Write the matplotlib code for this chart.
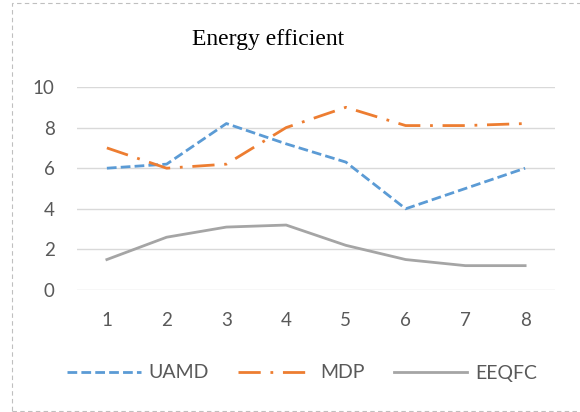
import matplotlib
matplotlib.use('Agg')
import matplotlib.pyplot as plt
from matplotlib.patches import Rectangle

# data
categories = [1, 2, 3, 4, 5, 6, 7, 8]
uamd = [6.0, 6.2, 8.2, 7.2, 6.3, 4.0, 5.0, 6.0]
mdp = [7.0, 6.0, 6.2, 8.0, 9.0, 8.1, 8.1, 8.2]
eeqfc = [1.5, 2.6, 3.1, 3.2, 2.2, 1.5, 1.2, 1.2]
y_ticks = [0, 2, 4, 6, 8, 10]

tick_font = 'Lato'
text_col = '#595959'

fig = plt.figure(figsize=(5.8, 4.12), dpi=100)
ax = fig.add_axes([77 / 580, 1 - 290 / 412, (555 - 77) / 580, (290 - 87) / 412])

ax.plot(categories, uamd, color='#5B9BD5', lw=2.0, linestyle=(0, (3.5, 1.5)), label='UAMD')
ax.plot(categories, mdp, color='#ED7D31', lw=2.0, linestyle=(0, (8, 3.5, 1, 3.5)), label='MDP')
ax.plot(categories, eeqfc, color='#A5A5A5', lw=2.0, label='EEQFC')

ax.set_xlim(0.5, 8.5)
ax.set_ylim(0, 10)
ax.set_yticks(y_ticks)
ax.set_xticks(categories)
ax.yaxis.grid(True, color='#D9D9D9', lw=1.0)
ax.set_axisbelow(True)
for s in ax.spines.values():
    s.set_visible(False)
ax.tick_params(length=0, labelsize=13.5, labelcolor=text_col, pad=16)
for lab in ax.get_xticklabels() + ax.get_yticklabels():
    lab.set_family(tick_font)

fig.text(268 / 580, 1 - 39 / 412, 'Energy efficient', ha='center', va='center',
         family='Liberation Serif', fontsize=17, color='black')

leg = fig.legend(loc='center', bbox_to_anchor=(302 / 580, 1 - 373 / 412), ncol=3, frameon=False,
                 prop={'family': tick_font, 'size': 14}, handlelength=3.8, columnspacing=1.5,
                 handletextpad=0.4)
for t in leg.get_texts():
    t.set_color(text_col)

fig.patches.append(Rectangle((12 / 580, 1 / 412), 600 / 580, 408 / 412, transform=fig.transFigure,
                             fill=False, edgecolor='#BFBFBF', lw=0.8, linestyle=(0, (4, 3))))

fig.savefig('out.png', dpi=100)
